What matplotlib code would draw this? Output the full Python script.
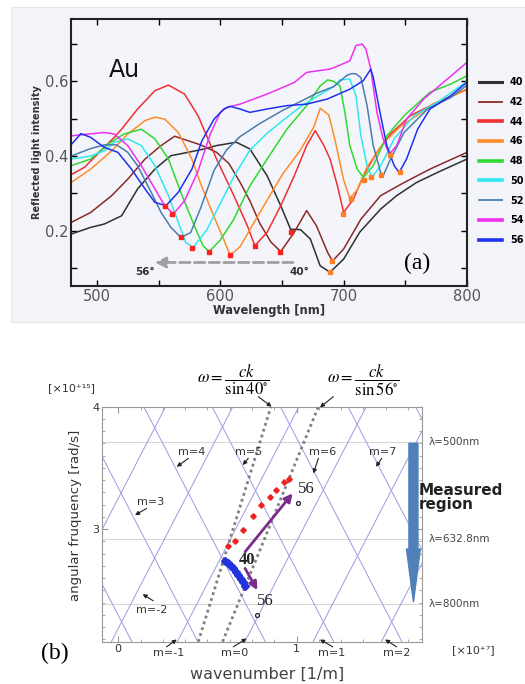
import matplotlib
matplotlib.use("Agg")
import matplotlib.pyplot as plt
from matplotlib.patches import Rectangle

plt.rcParams['font.family'] = ['DejaVu Sans']
plt.rcParams['mathtext.fontset'] = 'stix'

W, H = 525, 684

# ---------------- panel (a) data: reflected light vs wavelength ----------------
angle_labels = ['40', '42', '44', '46', '48', '50', '52', '54', '56']
angle_colors = ['#303030', '#8b2a2a', '#f03030', '#ff8c28', '#30d830',
                '#30e8f0', '#4a7cae', '#f030f0', '#2030f0']
legend_lw = [2.2, 1.3, 2.6, 2.6, 2.6, 2.6, 1.3, 2.6, 2.6]

lam_40 = [479, 495, 506, 520, 533, 547, 560, 574, 587, 597, 613, 624, 638, 649, 657, 665, 673, 681, 689, 700, 713, 730, 743, 759, 776, 800]
int_40 = [0.191, 0.209, 0.218, 0.240, 0.312, 0.365, 0.401, 0.410, 0.419, 0.428, 0.437, 0.419, 0.347, 0.267, 0.204, 0.203, 0.178, 0.106, 0.089, 0.124, 0.196, 0.258, 0.294, 0.329, 0.356, 0.392]

lam_42 = [479, 495, 512, 525, 539, 552, 563, 584, 597, 607, 616, 624, 632, 641, 649, 660, 670, 678, 687, 691, 700, 714, 730, 749, 770, 800]
int_42 = [0.222, 0.249, 0.294, 0.338, 0.392, 0.428, 0.453, 0.430, 0.410, 0.380, 0.330, 0.280, 0.220, 0.170, 0.144, 0.196, 0.254, 0.213, 0.142, 0.119, 0.151, 0.231, 0.294, 0.329, 0.365, 0.410]

lam_44 = [479, 490, 505, 514, 520, 533, 547, 558, 571, 582, 597, 611, 622, 628, 638, 649, 660, 670, 677, 684, 689, 695, 700, 708, 716, 727, 738, 754, 776, 800]
int_44 = [0.350, 0.370, 0.420, 0.450, 0.472, 0.526, 0.575, 0.590, 0.566, 0.508, 0.392, 0.294, 0.213, 0.160, 0.196, 0.267, 0.347, 0.428, 0.468, 0.428, 0.392, 0.320, 0.249, 0.285, 0.347, 0.410, 0.459, 0.508, 0.544, 0.579]

lam_46 = [479, 495, 512, 525, 539, 547, 555, 566, 577, 584, 595, 603, 608, 616, 627, 638, 651, 665, 676, 681, 688, 693, 700, 705, 711, 719, 732, 746, 760, 773, 800]
int_46 = [0.329, 0.365, 0.414, 0.459, 0.495, 0.504, 0.499, 0.463, 0.392, 0.327, 0.237, 0.175, 0.134, 0.157, 0.220, 0.282, 0.354, 0.416, 0.479, 0.528, 0.510, 0.443, 0.336, 0.287, 0.309, 0.371, 0.434, 0.479, 0.510, 0.541, 0.577]

lam_48 = [479, 495, 509, 522, 536, 547, 558, 568, 579, 586, 591, 600, 611, 624, 638, 654, 670, 681, 687, 692, 697, 701, 705, 711, 716, 724, 735, 749, 770, 787, 800]
int_48 = [0.374, 0.392, 0.432, 0.459, 0.472, 0.446, 0.392, 0.303, 0.213, 0.160, 0.144, 0.175, 0.231, 0.320, 0.392, 0.472, 0.535, 0.588, 0.604, 0.600, 0.588, 0.517, 0.428, 0.365, 0.343, 0.374, 0.454, 0.508, 0.571, 0.593, 0.615]

lam_50 = [479, 495, 506, 514, 525, 536, 547, 558, 566, 572, 578, 589, 600, 611, 624, 638, 651, 665, 678, 692, 697, 705, 710, 714, 719, 723, 730, 741, 757, 776, 800]
int_50 = [0.392, 0.400, 0.414, 0.437, 0.446, 0.428, 0.374, 0.294, 0.222, 0.169, 0.155, 0.202, 0.273, 0.345, 0.416, 0.461, 0.496, 0.532, 0.559, 0.586, 0.604, 0.606, 0.562, 0.454, 0.374, 0.343, 0.374, 0.446, 0.508, 0.544, 0.600]

lam_52 = [479, 495, 506, 516, 525, 533, 544, 552, 560, 568, 576, 584, 595, 605, 616, 632, 651, 665, 678, 692, 703, 707, 710, 714, 719, 724, 730, 732, 738, 749, 768, 787, 800]
int_52 = [0.400, 0.420, 0.430, 0.430, 0.410, 0.374, 0.303, 0.249, 0.209, 0.182, 0.195, 0.260, 0.362, 0.416, 0.452, 0.487, 0.523, 0.546, 0.568, 0.586, 0.617, 0.621, 0.620, 0.610, 0.535, 0.428, 0.356, 0.347, 0.392, 0.463, 0.526, 0.557, 0.590]

lam_54 = [479, 493, 506, 514, 525, 536, 547, 555, 562, 571, 582, 592, 600, 605, 616, 638, 660, 670, 689, 693, 705, 710, 715, 718, 722, 727, 732, 737, 743, 751, 765, 784, 800]
int_54 = [0.454, 0.459, 0.463, 0.459, 0.428, 0.374, 0.312, 0.267, 0.245, 0.280, 0.360, 0.460, 0.517, 0.530, 0.539, 0.566, 0.597, 0.624, 0.633, 0.638, 0.655, 0.696, 0.700, 0.687, 0.633, 0.517, 0.446, 0.405, 0.428, 0.499, 0.553, 0.606, 0.651]

lam_56 = [479, 487, 495, 506, 517, 528, 539, 547, 556, 566, 577, 585, 595, 603, 608, 616, 624, 638, 654, 670, 687, 705, 716, 722, 724, 730, 735, 741, 745, 751, 760, 770, 787, 800]
int_56 = [0.430, 0.460, 0.450, 0.423, 0.410, 0.365, 0.312, 0.276, 0.267, 0.303, 0.365, 0.440, 0.499, 0.526, 0.533, 0.526, 0.517, 0.526, 0.535, 0.539, 0.553, 0.579, 0.602, 0.633, 0.611, 0.508, 0.428, 0.374, 0.356, 0.392, 0.472, 0.526, 0.562, 0.598]

spectra_lam = [lam_40, lam_42, lam_44, lam_46, lam_48, lam_50, lam_52, lam_54, lam_56]
spectra_int = [int_40, int_42, int_44, int_46, int_48, int_50, int_52, int_54, int_56]

# dip positions marked on the spectra
dip1_lam = [554.9, 560.8, 567.8, 577.0, 591.1, 608.1, 628.4, 648.6, 657.3]
dip1_int = [0.267, 0.244, 0.182, 0.155, 0.144, 0.134, 0.160, 0.144, 0.197]
dip2_lam = [688.6, 690.5, 699.5, 706.2, 716.2, 722.4, 730.5, 737.3, 745.4]
dip2_int = [0.089, 0.119, 0.246, 0.285, 0.336, 0.343, 0.349, 0.403, 0.358]

# ---------------- panel (b) data: dispersion diagram ----------------
line40_k = [0.449, 0.856]
line40_w = [2.08, 4.0]
line56_k = [0.585, 1.122]
line56_w = [2.08, 4.0]

lat_k = [-0.737, -0.358, 0.019, 0.389, 0.767, 1.150, 1.533, 1.912, 2.291]
lat_w_low, lat_w_high, lat_dk = 2.242, 3.823, 0.561

lam_lines_w = [3.709, 2.918, 2.392]
lam_lines_txt = ['λ=500nm', 'λ=632.8nm', 'λ=800nm']

upper_k = [0.615, 0.655, 0.700, 0.755, 0.800, 0.850, 0.883, 0.930, 0.958]
upper_w = [2.861, 2.902, 2.992, 3.106, 3.196, 3.262, 3.319, 3.384, 3.409]
lower_k = [0.596, 0.614, 0.630, 0.645, 0.660, 0.673, 0.686, 0.699, 0.711]
lower_w = [2.741, 2.719, 2.700, 2.679, 2.651, 2.624, 2.591, 2.564, 2.534]

# m-order labels: text position, arrow tail, arrow head
m_text = ['m=4', 'm=5', 'm=6', 'm=7', 'm=3', 'm=-2', 'm=-1', 'm=0', 'm=1', 'm=2']
m_pos = [(0.412, 3.632), (0.729, 3.632), (1.146, 3.632), (1.483, 3.632), (0.183, 3.223),
         (0.187, 2.343), (0.280, 1.984), (0.655, 1.984), (1.197, 1.984), (1.561, 1.984)]
m_tail = [(0.393, 3.578), (0.729, 3.578), (1.122, 3.578), (1.477, 3.578), (0.159, 3.169),
          (0.196, 2.414), (0.271, 2.038), (0.645, 2.038), (1.202, 2.038), (1.561, 2.038)]
m_head = [(0.328, 3.509), (0.698, 3.523), (1.094, 3.455), (1.445, 3.509), (0.094, 3.114),
          (0.137, 2.469), (0.328, 2.098), (0.720, 2.106), (1.131, 2.098), (1.496, 2.098)]


def fx(x):
    return x / W


def fy(y):
    return 1 - y / H


fig = plt.figure(figsize=(W / 100, H / 100), dpi=100)
fig.patch.set_facecolor('white')
fig.add_artist(Rectangle((fx(11), fy(322)), fx(514), 315 / H, transform=fig.transFigure,
                         facecolor='#f3f4f9', edgecolor='#e2e2e6', lw=0.6, zorder=0))

# ---------------- panel (a) ----------------
axa = fig.add_axes([fx(71), fy(286), 396 / W, 267 / H])
axa.set_facecolor('#f4f5fa')
lines = []
for lam, inten, col, lab in zip(spectra_lam, spectra_int, angle_colors, angle_labels):
    ln, = axa.plot(lam, inten, color=col, lw=1.1, label=lab)
    lines.append(ln)
axa.plot(dip1_lam, dip1_int, 's', color='#ff2020', ms=3.2, zorder=5)
axa.plot(dip2_lam, dip2_int, 's', color='#ff7f27', ms=3.2, zorder=5)

axa.annotate('', xy=(547, 0.115), xytext=(659, 0.115),
             arrowprops=dict(arrowstyle='-|>', color='#a0a0a0', lw=2, ls='--',
                             mutation_scale=16, shrinkA=0, shrinkB=0))
axa.text(539, 0.09, '56°', fontsize=7.5, fontweight='bold', color='#333333', ha='center', va='center')
axa.text(664, 0.09, '40°', fontsize=7.5, fontweight='bold', color='#333333', ha='center', va='center')
fig.text(fx(124.5), fy(70), 'Au', fontsize=17, ha='center', va='center', color='#111111')
fig.text(fx(416.7), fy(263), '(a)', fontsize=17, ha='center', va='center',
         family=['Liberation Serif', 'DejaVu Serif'])

axa.set_xlim(479, 800)
axa.set_ylim(0.052, 0.767)
axa.set_xticks([500, 550, 600, 650, 700, 750, 800])
axa.set_xticklabels(['500', '', '600', '', '700', '', '800'])
axa.set_yticks([0.1, 0.2, 0.3, 0.4, 0.5, 0.6, 0.7])
axa.set_yticklabels(['', '0.2', '', '0.4', '', '0.6', ''])
axa.tick_params(direction='in', top=True, right=True, length=4, width=1,
                labelsize=10.5, labelcolor='#555555', pad=2)
for s in axa.spines.values():
    s.set_linewidth(1.5)
    s.set_color('#222222')
axa.set_xlabel('Wavelength [nm]', fontsize=8.3, fontweight='bold', color='#333333', labelpad=0)
axa.set_ylabel('Reflected light intensity', fontsize=7, fontweight='bold', color='#333333', labelpad=2)

leg = axa.legend(handles=lines, loc='upper left', bbox_to_anchor=(1.03, 0.782),
                 frameon=False, borderpad=0, borderaxespad=0, handlelength=2.35,
                 handletextpad=0.85, labelspacing=1.0,
                 prop={'weight': 'bold', 'size': 7})
for h, w in zip(leg.legend_handles, legend_lw):
    h.set_linewidth(w)

# ---------------- panel (b) ----------------
axb = fig.add_axes([fx(102), fy(641.7), 320 / W, 235 / H])
axb.set_xlim(-0.091, 1.703)
axb.set_ylim(2.08, 4.0)

for w in lam_lines_w:
    axb.axhline(w, color='#d8d8d8', lw=0.8, zorder=1)
for k in lat_k:
    axb.axline((k, lat_w_low), (k + lat_dk, lat_w_high), color='#a0a0e6', lw=0.75, zorder=2)
    axb.axline((k, lat_w_low), (k - lat_dk, lat_w_high), color='#a0a0e6', lw=0.75, zorder=2)

axb.plot(line40_k, line40_w, color='#808080', lw=2, ls=(0, (1, 1.2)), zorder=3)
axb.plot(line56_k, line56_w, color='#808080', lw=2, ls=(0, (1, 1.2)), zorder=3)
axb.plot(upper_k, upper_w, 'D', color='#ee2222', ms=2.8, zorder=4)
axb.plot(lower_k, lower_w, 'D', color='#2233dd', ms=3.6, zorder=4)

purple = '#7b2d8e'
axb.annotate('', xy=(0.978, 3.292), xytext=(0.711, 2.814),
             arrowprops=dict(arrowstyle='-|>', color=purple, lw=2, mutation_scale=12,
                             shrinkA=0, shrinkB=0))
axb.annotate('', xy=(0.780, 2.501), xytext=(0.711, 2.679),
             arrowprops=dict(arrowstyle='-|>', color=purple, lw=2, mutation_scale=12,
                             shrinkA=0, shrinkB=0))
serif = ['Liberation Serif', 'DejaVu Serif']
axb.text(0.720, 2.747, '40', fontsize=12, fontweight='bold', family=serif, color='#222222',
         ha='center', va='center', zorder=6)
axb.text(1.057, 3.325, '56', fontsize=12, family=serif, color='#222222', ha='center', va='center')
axb.text(0.823, 2.414, '56', fontsize=12, family=serif, color='#222222', ha='center', va='center')
axb.plot([1.010, 0.776], [3.21, 2.297], 'o', ms=2.8, mfc='white', mec='#222222', mew=0.9, zorder=6)

for txt, pos, tail, head in zip(m_text, m_pos, m_tail, m_head):
    axb.text(pos[0], pos[1], txt, fontsize=8, color='#333333', ha='center', va='center',
             clip_on=False)
    axb.annotate('', xy=head, xytext=tail, annotation_clip=False,
                 arrowprops=dict(arrowstyle='-|>', color='#222222', lw=0.8,
                                 mutation_scale=6, shrinkA=0, shrinkB=0))

axb.text(0.645, 4.218, r'$\omega=\dfrac{ck}{\sin 40^{\circ}}$', fontsize=12,
         ha='center', va='center', clip_on=False)
axb.text(1.374, 4.218, r'$\omega=\dfrac{ck}{\sin 56^{\circ}}$', fontsize=12,
         ha='center', va='center', clip_on=False)
axb.annotate('', xy=(0.860, 4.0), xytext=(0.785, 4.082), annotation_clip=False,
             arrowprops=dict(arrowstyle='-|>', color='#222222', lw=0.8, mutation_scale=6,
                             shrinkA=0, shrinkB=0))
axb.annotate('', xy=(1.131, 3.995), xytext=(1.206, 4.082), annotation_clip=False,
             arrowprops=dict(arrowstyle='-|>', color='#222222', lw=0.8, mutation_scale=6,
                             shrinkA=0, shrinkB=0))

for w, txt in zip(lam_lines_w, lam_lines_txt):
    axb.text(1.739, w, txt, fontsize=7.5, color='#444444', ha='left', va='center', clip_on=False)

axb.annotate('', xy=(1.655, 2.406), xytext=(1.655, 3.701), annotation_clip=False,
             arrowprops=dict(arrowstyle='simple,head_length=3.8,head_width=1.0,tail_width=0.65',
                             mutation_scale=10, color='#4f80b8', shrinkA=0, shrinkB=0))
axb.text(1.683, 3.255, 'Measured\nregion', fontsize=11, fontweight='bold', color='#222222',
         ha='left', va='center', linespacing=0.9, clip_on=False, zorder=7)

axb.set_xticks([0, 1])
axb.set_xticks([i * 0.125 for i in range(14)], minor=True)
axb.set_yticks([3, 4])
axb.set_yticks([2.1 + i * 0.1 for i in range(20)], minor=True)
axb.tick_params(which='both', direction='in', top=True, right=True, color='#999999',
                labelsize=8, labelcolor='#333333', pad=2)
axb.tick_params(which='major', length=4)
axb.tick_params(which='minor', length=2)
for s in axb.spines.values():
    s.set_linewidth(0.8)
    s.set_color('#999999')

fig.text(fx(75), fy(515), 'angular fruquency [rad/s]', rotation=90, fontsize=9.5,
         color='#333333', ha='center', va='center')
fig.text(fx(266.7), fy(674), 'wavenumber [1/m]', fontsize=11.5, color='#444444',
         ha='center', va='center')
fig.text(fx(71.7), fy(388), '[×10⁺¹⁵]', fontsize=8, color='#333333', ha='center', va='center')
fig.text(fx(473.3), fy(650), '[×10⁺⁷]', fontsize=8, color='#333333', ha='center', va='center')
fig.text(fx(55), fy(653), '(b)', fontsize=17, family=serif, ha='center', va='center')

fig.savefig('out.png', dpi=100)
